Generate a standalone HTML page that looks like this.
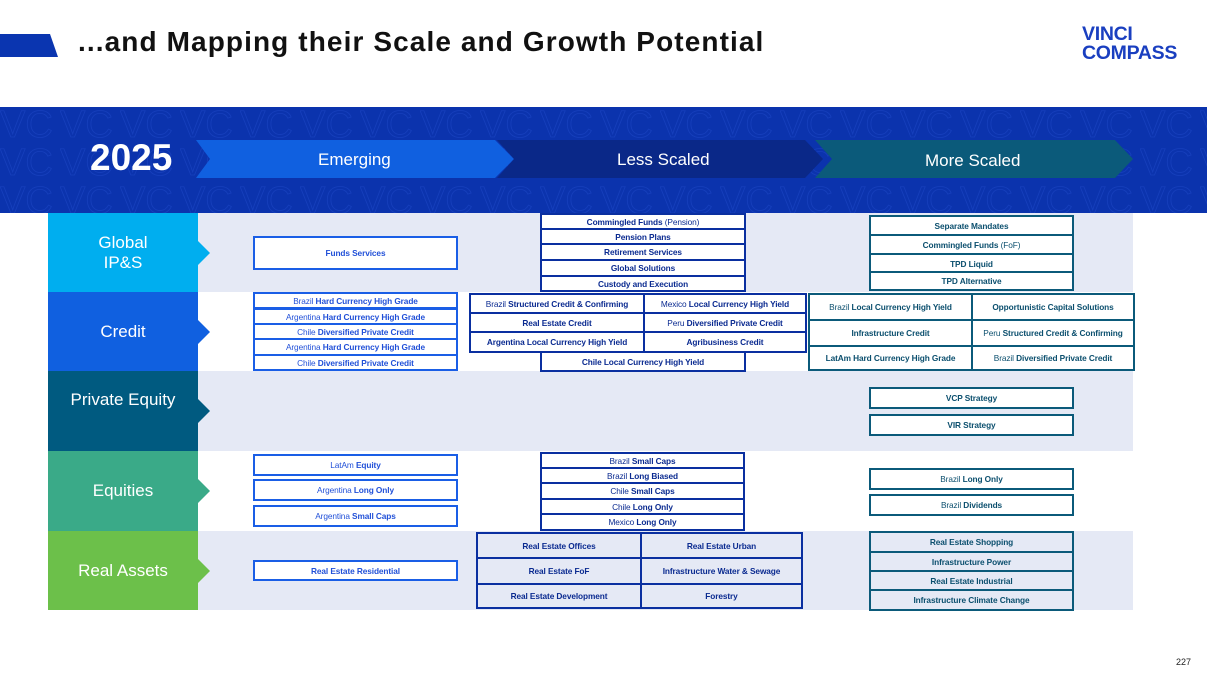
<!DOCTYPE html>
<html><head><meta charset="utf-8">
<style>
*{margin:0;padding:0;box-sizing:border-box}
body{width:1207px;height:679px;position:relative;background:#fff;font-family:"Liberation Sans",sans-serif;overflow:hidden}
.a{position:absolute}
.b{position:absolute;display:flex;align-items:center;justify-content:center;text-align:center;font-size:8.3px;font-weight:bold;white-space:nowrap;background:#fff;letter-spacing:-0.1px}
.e{border:2px solid #1a5ee6;color:#2150d8}
.l{border:2px solid #0a2fa0;color:#0a2a90}
.m{border:2px solid #0b5a7a;color:#0b4f6e}
.n{font-weight:normal}
.band{position:absolute;left:198px;width:935px;background:#e5e9f5}
.cat{position:absolute;left:48px;width:150px;color:#fff;font-size:17px;display:flex;align-items:center;justify-content:center;text-align:center;line-height:20px}
.cat:after{content:"";position:absolute;right:-12px;top:50%;margin-top:-12px;border-left:12px solid var(--c);border-top:12px solid transparent;border-bottom:12px solid transparent}
</style></head><body>
<div class="a" style="left:0;top:34px;width:58px;height:23px;background:#0a35b0;clip-path:polygon(0 0,50px 0,58px 23px,0 23px)"></div>
<div class="a" style="left:78px;top:26px;font-size:28px;font-weight:bold;color:#111;letter-spacing:1.1px">...and Mapping their Scale and Growth Potential</div>
<div class="a" style="left:1082px;top:25px;font-size:19.5px;font-weight:bold;color:#1a3fc0;line-height:19px;letter-spacing:-0.3px">VINCI<br>COMPASS</div>

<div class="a" style="left:0;top:107px;width:1207px;height:106px;background:#0b33ad"></div>
<svg class="a" style="left:0;top:107px" width="1207" height="106">
<defs><pattern id="p" width="60" height="38" patternUnits="userSpaceOnUse"><text x="0" y="30" font-family="Liberation Sans" font-size="38" fill="none" stroke="#2a55d8" stroke-width="0.8">VC</text></pattern></defs>
<rect width="1207" height="106" fill="url(#p)" opacity="0.35"/>
<polygon points="196,33 495,33 514,52 495,71 196,71 210,52" fill="#1060e0"/>
<polygon points="497,33 805,33 823,52 805,71 497,71 514,52" fill="#0a2888"/>
<polygon points="815,33 1115,33 1133,52 1115,71 815,71 832,52" fill="#0b5a7a"/>
</svg>
<div class="a" style="left:90px;top:137px;font-size:37px;font-weight:bold;color:#fff">2025</div>
<div class="a" style="left:318px;top:150px;font-size:17px;color:#fff">Emerging</div>
<div class="a" style="left:617px;top:150px;font-size:17px;color:#fff">Less Scaled</div>
<div class="a" style="left:925px;top:151px;font-size:17px;color:#fff">More Scaled</div>

<div class="band" style="top:213px;height:79px"></div>
<div class="band" style="top:371px;height:80px"></div>
<div class="band" style="top:531px;height:79px"></div>

<div class="cat" style="top:213px;height:79px;background:#00aeef;--c:#00aeef">Global<br>IP&amp;S</div>
<div class="cat" style="top:292px;height:79px;background:#1060e0;--c:#1060e0">Credit</div>
<div class="cat" style="top:371px;height:80px;background:#005a80;--c:#005a80;padding-bottom:22px">Private Equity</div>
<div class="cat" style="top:451px;height:80px;background:#3aaa88;--c:#3aaa88">Equities</div>
<div class="cat" style="top:531px;height:79px;background:#6cc04a;--c:#6cc04a">Real Assets</div>

<!-- Emerging -->
<div class="b e" style="left:253px;top:236px;width:205px;height:34px">Funds Services</div>
<div class="b e" style="left:253px;top:292px;width:205px;height:17px"><span class="n">Brazil&nbsp;</span>Hard Currency High Grade</div>
<div class="b e" style="left:253px;top:308px;width:205px;height:17px"><span class="n">Argentina&nbsp;</span>Hard Currency High Grade</div>
<div class="b e" style="left:253px;top:323px;width:205px;height:17px"><span class="n">Chile&nbsp;</span>Diversified Private Credit</div>
<div class="b e" style="left:253px;top:338px;width:205px;height:18px"><span class="n">Argentina&nbsp;</span>Hard Currency High Grade</div>
<div class="b e" style="left:253px;top:354px;width:205px;height:17px"><span class="n">Chile&nbsp;</span>Diversified Private Credit</div>
<div class="b e" style="left:253px;top:454px;width:205px;height:22px"><span class="n">LatAm&nbsp;</span>Equity</div>
<div class="b e" style="left:253px;top:479px;width:205px;height:22px"><span class="n">Argentina&nbsp;</span>Long Only</div>
<div class="b e" style="left:253px;top:505px;width:205px;height:22px"><span class="n">Argentina&nbsp;</span>Small Caps</div>
<div class="b e" style="left:253px;top:560px;width:205px;height:21px">Real Estate Residential</div>

<!-- Less scaled -->
<div class="b l" style="left:540px;top:213px;width:206px;height:17px">Commingled Funds&nbsp;<span class="n">(Pension)</span></div>
<div class="b l" style="left:540px;top:228px;width:206px;height:17px">Pension Plans</div>
<div class="b l" style="left:540px;top:243px;width:206px;height:18px">Retirement Services</div>
<div class="b l" style="left:540px;top:259px;width:206px;height:18px">Global Solutions</div>
<div class="b l" style="left:540px;top:275px;width:206px;height:17px">Custody and Execution</div>

<div class="b l" style="left:469px;top:293px;width:176px;height:21px"><span class="n">Brazil&nbsp;</span>Structured Credit &amp; Confirming</div>
<div class="b l" style="left:643px;top:293px;width:164px;height:21px"><span class="n">Mexico&nbsp;</span>Local Currency High Yield</div>
<div class="b l" style="left:469px;top:312px;width:176px;height:21px">Real Estate Credit</div>
<div class="b l" style="left:643px;top:312px;width:164px;height:21px"><span class="n">Peru&nbsp;</span>Diversified Private Credit</div>
<div class="b l" style="left:469px;top:331px;width:176px;height:22px">Argentina Local Currency High Yield</div>
<div class="b l" style="left:643px;top:331px;width:164px;height:22px">Agribusiness Credit</div>
<div class="b l" style="left:540px;top:351px;width:206px;height:21px">Chile Local Currency High Yield</div>

<div class="b l" style="left:540px;top:452px;width:205px;height:17px"><span class="n">Brazil&nbsp;</span>Small Caps</div>
<div class="b l" style="left:540px;top:467px;width:205px;height:17px"><span class="n">Brazil&nbsp;</span>Long Biased</div>
<div class="b l" style="left:540px;top:482px;width:205px;height:18px"><span class="n">Chile&nbsp;</span>Small Caps</div>
<div class="b l" style="left:540px;top:498px;width:205px;height:17px"><span class="n">Chile&nbsp;</span>Long Only</div>
<div class="b l" style="left:540px;top:513px;width:205px;height:18px"><span class="n">Mexico&nbsp;</span>Long Only</div>

<div class="b l" style="left:476px;top:532px;width:166px;height:27px;background:#e5e9f5">Real Estate Offices</div>
<div class="b l" style="left:640px;top:532px;width:163px;height:27px;background:#e5e9f5">Real Estate Urban</div>
<div class="b l" style="left:476px;top:557px;width:166px;height:28px;background:#e5e9f5">Real Estate FoF</div>
<div class="b l" style="left:640px;top:557px;width:163px;height:28px;background:#e5e9f5">Infrastructure Water &amp; Sewage</div>
<div class="b l" style="left:476px;top:583px;width:166px;height:26px;background:#e5e9f5">Real Estate Development</div>
<div class="b l" style="left:640px;top:583px;width:163px;height:26px;background:#e5e9f5">Forestry</div>

<!-- More scaled -->
<div class="b m" style="left:869px;top:215px;width:205px;height:21px">Separate Mandates</div>
<div class="b m" style="left:869px;top:234px;width:205px;height:21px">Commingled Funds&nbsp;<span class="n">(FoF)</span></div>
<div class="b m" style="left:869px;top:253px;width:205px;height:21px">TPD Liquid</div>
<div class="b m" style="left:869px;top:271px;width:205px;height:20px">TPD Alternative</div>

<div class="b m" style="left:808px;top:293px;width:165px;height:28px"><span class="n">Brazil&nbsp;</span>Local Currency High Yield</div>
<div class="b m" style="left:971px;top:293px;width:164px;height:28px">Opportunistic Capital Solutions</div>
<div class="b m" style="left:808px;top:319px;width:165px;height:28px">Infrastructure Credit</div>
<div class="b m" style="left:971px;top:319px;width:164px;height:28px"><span class="n">Peru&nbsp;</span>Structured Credit &amp; Confirming</div>
<div class="b m" style="left:808px;top:345px;width:165px;height:26px">LatAm Hard Currency High Grade</div>
<div class="b m" style="left:971px;top:345px;width:164px;height:26px"><span class="n">Brazil&nbsp;</span>Diversified Private Credit</div>

<div class="b m" style="left:869px;top:387px;width:205px;height:22px">VCP Strategy</div>
<div class="b m" style="left:869px;top:414px;width:205px;height:22px">VIR Strategy</div>

<div class="b m" style="left:869px;top:468px;width:205px;height:22px"><span class="n">Brazil&nbsp;</span>Long Only</div>
<div class="b m" style="left:869px;top:494px;width:205px;height:22px"><span class="n">Brazil&nbsp;</span>Dividends</div>

<div class="b m" style="left:869px;top:531px;width:205px;height:22px;background:#e5e9f5">Real Estate Shopping</div>
<div class="b m" style="left:869px;top:551px;width:205px;height:21px;background:#e5e9f5">Infrastructure Power</div>
<div class="b m" style="left:869px;top:570px;width:205px;height:21px;background:#e5e9f5">Real Estate Industrial</div>
<div class="b m" style="left:869px;top:589px;width:205px;height:22px;background:#e5e9f5">Infrastructure Climate Change</div>

<div class="a" style="left:1176px;top:657px;font-size:9px;color:#222">227</div>
</body></html>
